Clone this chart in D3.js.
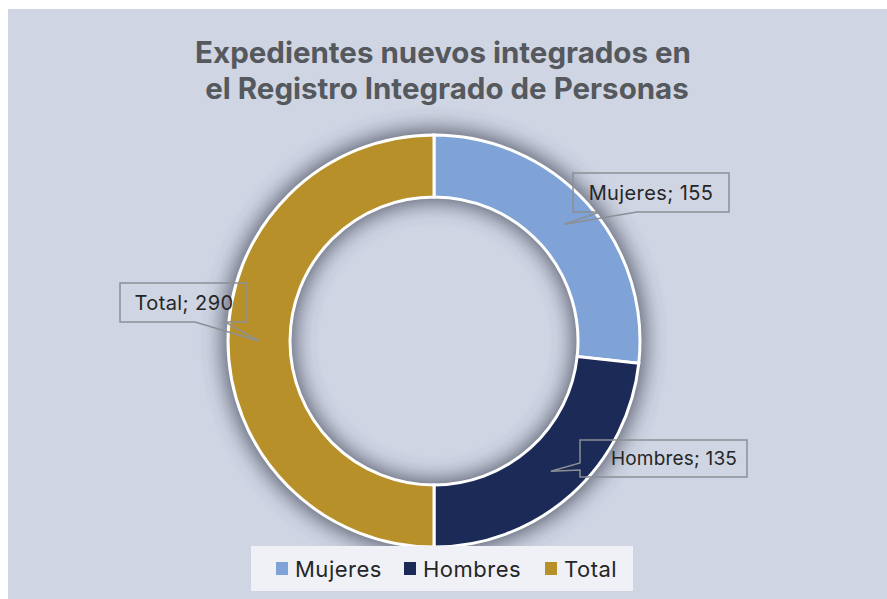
<!DOCTYPE html>
<html>
<head>
<meta charset="utf-8">
<script src="https://cdn.jsdelivr.net/npm/d3@7"></script>
<style>
  html, body { margin: 0; padding: 0; background: #fff; }
  svg { display: block; font-family: Inter, 'Open Sans', sans-serif; }
</style>
</head>
<body>
<svg id="chart" width="887" height="599"></svg>
<script>
// data
let categories = ['Mujeres', 'Hombres', 'Total'];
let values = [155, 135, 290];
let colors = ['#7fa3d6', '#1b2a56', '#b8902a'];
let titleLines = ['Expedientes nuevos integrados en', 'el Registro Integrado de Personas'];

let WIDTH = 887;
let HEIGHT = 599;
let CX = 434;
let CY = 341;
let OUTER = 206;
let INNER = 144;

// callout boxes: box rect, text centre, font size, and the edge the pointer leaves from
let CALLOUTS = [
  { x: 573, y: 173, w: 156, h: 39, tx: 651, fs: 20, ls: 0.4, edge: 'bottom', b1: 600, b2: 637 },
  { x: 580, y: 440, w: 167, h: 37, tx: 674, fs: 19, ls: 0.2, edge: 'left', b1: 463, b2: 470 },
  { x: 120, y: 283, w: 127, h: 39, tx: 184, fs: 20, ls: 0.4, edge: 'bottom', b1: 195, b2: 225 }
];

let svg = d3.select('#chart');

// background panel
svg.append('rect')
  .attr('x', 8)
  .attr('y', 9)
  .attr('width', WIDTH - 8)
  .attr('height', HEIGHT - 9)
  .attr('fill', '#cfd5e3');

// soft shadow around the ring
let defs = svg.append('defs');
defs.append('filter')
  .attr('id', 'ringShadow')
  .attr('x', '-30%').attr('y', '-30%')
  .attr('width', '160%').attr('height', '160%')
  .append('feGaussianBlur')
  .attr('stdDeviation', 11);

let pie = d3.pie().sort(null).value(d => d.value);
let arcs = pie(categories.map((c, i) => ({ name: c, value: values[i], color: colors[i] })));

let arc = d3.arc().innerRadius(INNER).outerRadius(OUTER);
let shadowArc = d3.arc().innerRadius(INNER - 4).outerRadius(OUTER + 5);

let ring = svg.append('g').attr('transform', 'translate(' + CX + ',' + CY + ')');

ring.append('path')
  .attr('d', shadowArc({ startAngle: 0, endAngle: 2 * Math.PI }))
  .attr('fill', '#3f4556')
  .attr('opacity', 0.85)
  .attr('filter', 'url(#ringShadow)');

ring.selectAll('path.slice')
  .data(arcs)
  .enter().append('path')
  .attr('class', 'slice')
  .attr('d', arc)
  .attr('fill', d => d.data.color)
  .attr('stroke', '#fff')
  .attr('stroke-width', 3);

// title
svg.append('text')
  .attr('font-size', 29.5)
  .attr('font-weight', 700)
  .attr('fill', '#55595d')
  .attr('text-anchor', 'middle')
  .selectAll('tspan')
  .data(titleLines)
  .enter().append('tspan')
  .attr('x', (d, i) => i === 0 ? 443 : 447)
  .attr('y', (d, i) => 63 + i * 36)
  .text(d => d);

// data label callouts
function calloutPath (c, tip) {
  let x0 = c.x, y0 = c.y, x1 = c.x + c.w, y1 = c.y + c.h;
  if (c.edge === 'bottom') {
    return 'M' + x0 + ',' + y0 + 'H' + x1 + 'V' + y1 + 'H' + c.b2 +
      'L' + tip[0] + ',' + tip[1] + 'L' + c.b1 + ',' + y1 + 'H' + x0 + 'Z';
  }
  return 'M' + x0 + ',' + y0 + 'H' + x1 + 'V' + y1 + 'H' + x0 + 'V' + c.b2 +
    'L' + tip[0] + ',' + tip[1] + 'L' + x0 + ',' + c.b1 + 'Z';
}

let labels = svg.append('g');
arcs.forEach((d, i) => {
  let c = CALLOUTS[i];
  let cen = arc.centroid(d);
  let tip = [CX + cen[0], CY + cen[1]];
  labels.append('path')
    .attr('d', calloutPath(c, tip))
    .attr('fill', 'none')
    .attr('stroke', '#8c8f94')
    .attr('stroke-width', 1.5);
  labels.append('text')
    .attr('x', c.tx)
    .attr('y', c.y + c.h / 2)
    .attr('dy', '0.36em')
    .attr('text-anchor', 'middle')
    .attr('font-size', c.fs)
    .attr('letter-spacing', c.ls)
    .attr('fill', '#262626')
    .text(d.data.name + '; ' + d.data.value);
});

// legend
let legend = svg.append('g');
legend.append('rect')
  .attr('x', 251)
  .attr('y', 546)
  .attr('width', 382)
  .attr('height', 45)
  .attr('fill', '#eff1f6');

let legendX = [276, 404, 545];
let items = legend.selectAll('g.item')
  .data(categories)
  .enter().append('g')
  .attr('class', 'item')
  .attr('transform', (d, i) => 'translate(' + legendX[i] + ',562)');
items.append('rect')
  .attr('width', 12)
  .attr('height', 13)
  .attr('fill', (d, i) => colors[i]);
items.append('text')
  .attr('x', 19)
  .attr('y', 14.5)
  .attr('font-size', 22)
  .attr('letter-spacing', 0.5)
  .attr('fill', '#262626')
  .text(d => d);
</script>
</body>
</html>
